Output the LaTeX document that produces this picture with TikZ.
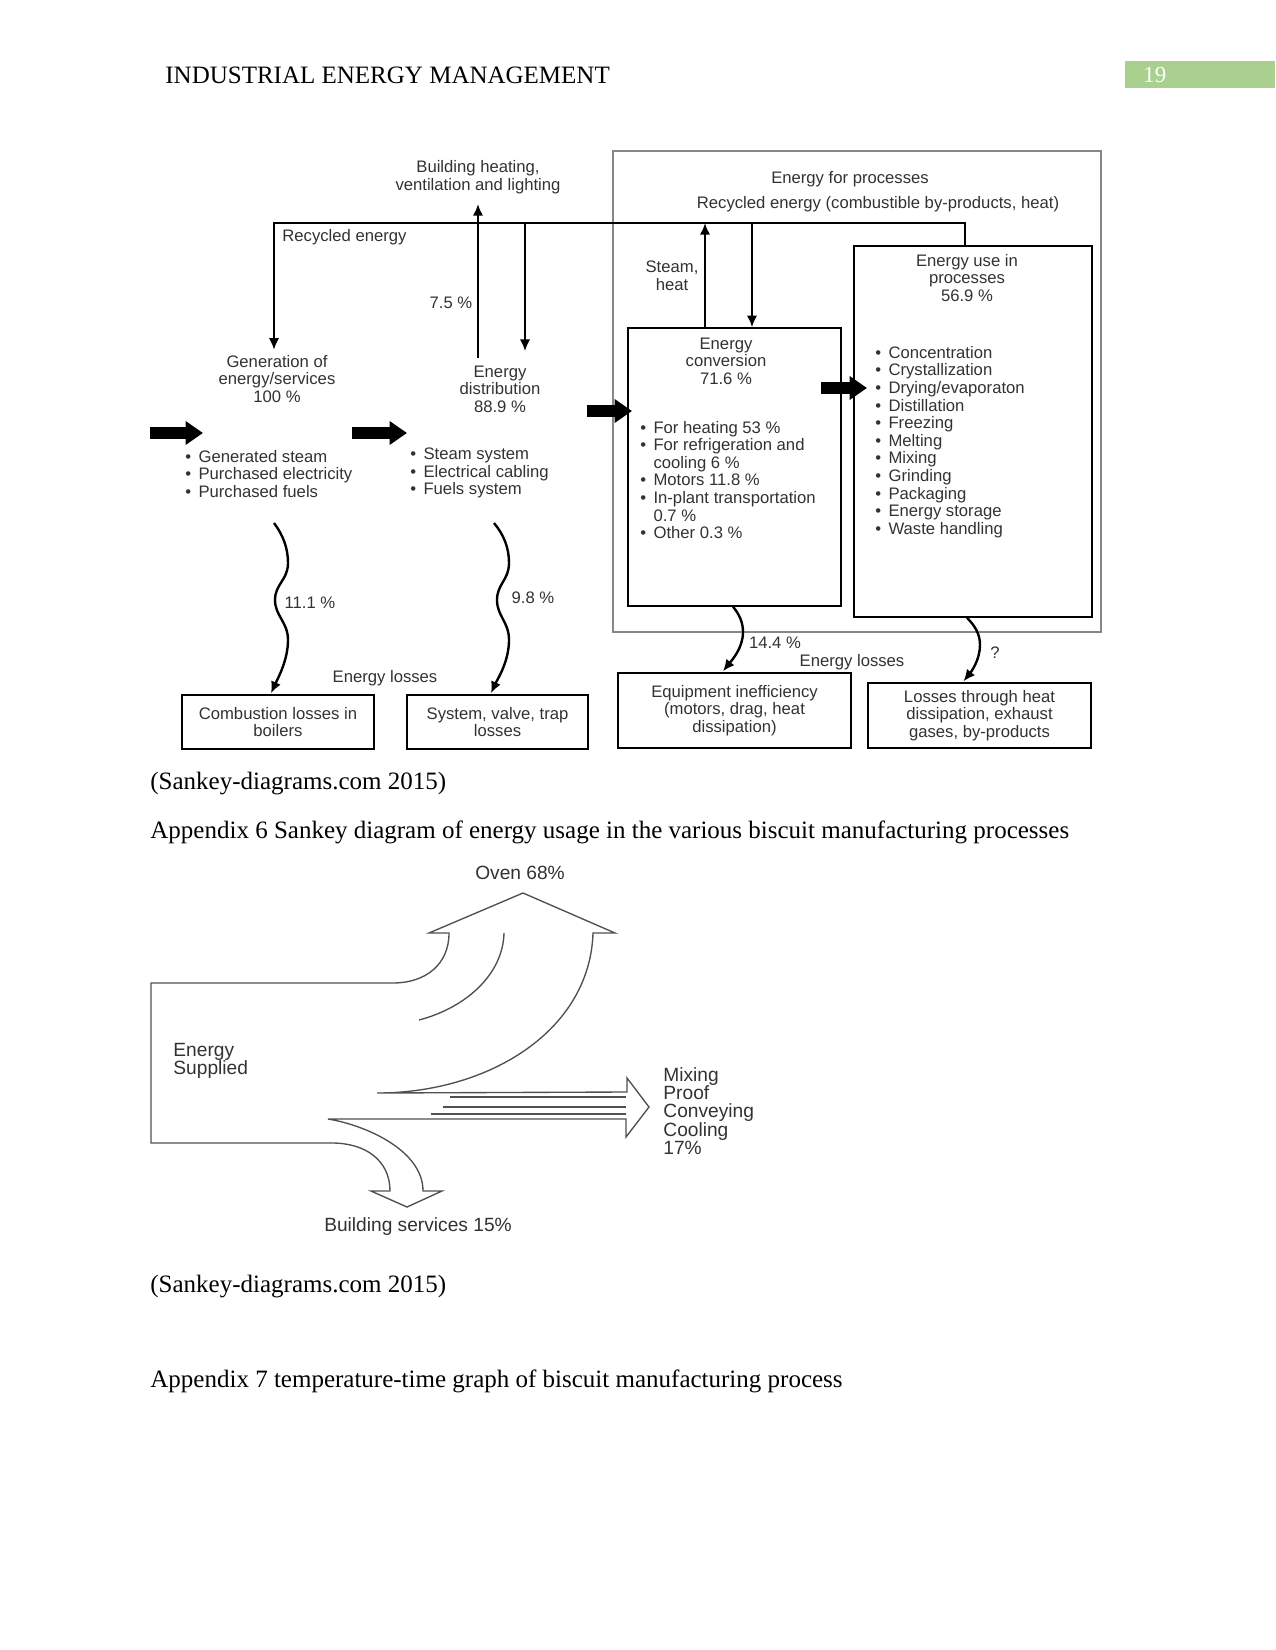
\documentclass[tikz,border=0pt]{standalone}
\usepackage{fontspec}
\setmainfont{Liberation Serif}
\newfontfamily\sansdiag{Liberation Sans}
\usetikzlibrary{calc,arrows.meta}
\definecolor{pagegreen}{RGB}{169,208,142}
\definecolor{inkgrey}{RGB}{50,50,50}
\definecolor{framegrey}{RGB}{135,135,135}
\definecolor{sankeygrey}{RGB}{80,80,80}
\newcommand{\itm}{\makebox[6.3pt][l]{\textbullet}}
\newcommand{\cnt}{\makebox[6.3pt][l]{}}

\begin{document}
\begin{tikzpicture}[x=0.48pt, y=-0.48pt, >={Latex[length=5.6pt,width=5pt]}]
\tikzstyle{lbl} = [font=\sansdiag\fontsize{8}{8.45}\selectfont, text=inkgrey, align=center, inner sep=0pt]
\tikzstyle{lst} = [lbl, align=left, anchor=west]
\tikzstyle{lossbox} = [rectangle, draw=black, line width=.7pt, lbl]
\tikzstyle{procbox} = [rectangle, draw=black, line width=.7pt]
\tikzstyle{flow} = [->, line width=1.15pt]
\tikzstyle{wave} = [->, line width=1.15pt]
\tikzstyle{fat} = [line width=5.8pt, -{Triangle[length=8.4pt,width=11pt]}]
\tikzstyle{body} = [font=\fontsize{12}{14}\selectfont, inner sep=0pt, anchor=west]
\tikzstyle{sk} = [draw=sankeygrey, line width=.65pt]
\tikzstyle{sklbl} = [font=\sansdiag\fontsize{9.2}{8.8}\selectfont, text=inkgrey, inner sep=0pt]

\useasboundingbox (0,0) rectangle (1275,1650);

% page header
\fill[pagegreen] (1125,61) rectangle (1275,88);
\node (hdr) [body] at (165,75) {INDUSTRIAL ENERGY MANAGEMENT};
\node (pgno) [body, text=white, font=\fontsize{11}{13}\selectfont] at (1143,75) {19};

% energy flow diagram
\node (frame) [procbox, draw=framegrey, minimum width=234.2pt, minimum height=230.9pt] at (857,391.5) {};
\node (conv) [procbox, minimum width=102.2pt, minimum height=133.4pt] at (734.5,467) {};
\node (use) [procbox, minimum width=114.2pt, minimum height=178.1pt] at (973,431.5) {};

\node (bhvl) [lbl] at (478,177) {Building heating,\\ventilation and lighting};
\node (recl) [lbl, anchor=west] at (282,237) {Recycled energy};
\node (pct75) [lbl] at (451,303) {7.5 \%};
\node (gen) [lbl] at (277,379) {Generation of\\energy/services\\100 \%};
\node (dist) [lbl] at (500,389) {Energy\\distribution\\88.9 \%};
\node (genlst) [lst] at (185,474) {\itm Generated steam\\\itm Purchased electricity\\\itm Purchased fuels};
\node (distlst) [lst] at (410,473) {\itm Steam system\\\itm Electrical cabling\\\itm Fuels system};
\node (efp) [lbl] at (850,179) {Energy for processes};
\node (recp) [lbl] at (878,204) {Recycled energy (combustible by-products, heat)};
\node (steam) [lbl] at (672,276) {Steam,\\heat};
\node (convt) [lbl] at (726,361) {Energy\\conversion\\71.6 \%};
\node (convlst) [lst] at (640,480) {\itm For heating 53 \%\\\itm For refrigeration and\\\cnt cooling 6 \%\\\itm Motors 11.8 \%\\\itm In-plant transportation\\\cnt 0.7 \%\\\itm Other 0.3 \%};
\node (uset) [lbl] at (967,278) {Energy use in\\processes\\56.9 \%};
\node (uselst) [lst] at (875,442) {\itm Concentration\\\itm Crystallization\\\itm Drying/evaporaton\\\itm Distillation\\\itm Freezing\\\itm Melting\\\itm Mixing\\\itm Grinding\\\itm Packaging\\\itm Energy storage\\\itm Waste handling};

\node (comb) [lossbox, minimum width=92.2pt, minimum height=25.9pt] at (278,722) {Combustion losses in\\boilers};
\node (sysv) [lossbox, minimum width=86.9pt, minimum height=25.9pt] at (497.5,722) {System, valve, trap\\losses};
\node (equip) [lossbox, minimum width=111.8pt, minimum height=36pt] at (734.5,710.5) {Equipment inefficiency\\(motors, drag, heat\\dissipation)};
\node (lossh) [lossbox, minimum width=107pt, minimum height=31.2pt] at (979.5,715.5) {Losses through heat\\dissipation, exhaust\\gases, by-products};

\node (pct111) [lbl] at (310,603) {11.1 \%};
\node (pct98) [lbl] at (533,598) {9.8 \%};
\node (loss1) [lbl] at (385,678) {Energy losses};
\node (pct144) [lbl] at (775,643) {14.4 \%};
\node (loss2) [lbl] at (852,662) {Energy losses};
\node (qmark) [lbl] at (995,653) {?};

% recycled energy loop
\coordinate (rl) at (274,223);
\coordinate (rr) at (965,223);
\coordinate (dl) at (525,223);
\coordinate (bhup) at (478,358);
\coordinate (cu) at (705,223);
\coordinate (cd) at (752,223);
\draw[flow] (use.north -| rr) -- (rr) -- (rl) -- ($(rl |- gen.north)+(0,-5)$);
\draw[flow] (dl) -- ($(dl |- dist.north)+(0,-14)$);
\draw[flow] (bhup) -- ($(bhup |- bhvl.south)+(0,10)$);
\draw[flow] (conv.north -| cu) -- (cu);
\draw[flow] (cd) -- (cd |- conv.north);

% supply arrows
\coordinate (f1s) at (150,433); \coordinate (f1e) at (203,433);
\coordinate (f2s) at (352,433); \coordinate (f2e) at (407,433);
\coordinate (f3s) at (587,411); \coordinate (f3e) at (632,411);
\coordinate (f4s) at (821,388); \coordinate (f4e) at (867,388);
\draw[fat] (f1s) -- (f1e);
\draw[fat] (f2s) -- (f2e);
\draw[fat] (f3s) -- (f3e);
\draw[fat] (f4s) -- (f4e);

% losses
\coordinate (w1s) at (274,523);
\coordinate (w2s) at (494,523);
\draw[wave] (w1s) .. controls (283,535) and (288,548) .. (288,563) .. controls (288,580) and (275,584) .. (275,600) .. controls (275,616) and (288,622) .. (288,640) .. controls (288,660) and (278,678) .. ($(comb.north)+(-7,-1)$);
\draw[wave] (w2s) .. controls (504,535) and (509,548) .. (509,563) .. controls (509,580) and (497,584) .. (497,600) .. controls (497,616) and (509,622) .. (509,640) .. controls (509,662) and (497,680) .. ($(sysv.north)+(-6.5,-1)$);
\draw[wave] ($(conv.south)+(-1.5,0)$) .. controls (739,614) and (743,622) .. (743,632) .. controls (743,648) and (732,660) .. ($(equip.north)+(-11.5,-1)$);
\draw[wave] ($(use.south)+(-6,0)$) .. controls (975,626) and (980,634) .. (980,645) .. controls (980,660) and (971,672) .. ($(lossh.north)+(-16,-1)$);

% captions
\node (src1) [body] at (150,784) {(Sankey-diagrams.com 2015)};
\node (app6) [body] at (150,832) {Appendix 6 Sankey diagram of energy usage in the various biscuit manufacturing processes};
\node (src2) [body] at (150,1287) {(Sankey-diagrams.com 2015)};
\node (app7) [body] at (150,1381) {Appendix 7 temperature-time graph of biscuit manufacturing process};

% biscuit sankey
\draw[sk] (449,933) .. controls (449,965) and (425,983) .. (393,983) -- (151,983) -- (151,1143) -- (332,1143)
  .. controls (365,1143) and (390,1160) .. (390,1191) -- (371,1191) -- (407,1207) -- (442,1191) -- (423,1191)
  .. controls (423,1150) and (365,1125) .. (328,1119) -- (626,1119) -- (626,1137) -- (649,1107) -- (627,1078) -- (627,1092) -- (377,1093)
  .. controls (490,1093) and (590,1030) .. (593,933) -- (615,933) -- (523,893) -- (429,933) -- cycle;
\draw[sk] (504,933) .. controls (503,975) and (465,1008) .. (419,1020);
\draw[sk] (450,1097) -- (626,1097);
\draw[sk] (443,1107) -- (626,1107);
\draw[sk] (431,1114) -- (626,1114);

\node (oven) [sklbl] at (520,873) {Oven 68\%};
\node (esup) [sklbl, align=left, anchor=west] at (173,1061) {Energy\\Supplied};
\node (mixl) [sklbl, align=left, anchor=west] at (663,1111) {Mixing\\Proof\\Conveying\\Cooling\\17\%};
\node (bsvc) [sklbl] at (418,1227) {Building services 15\%};

\end{tikzpicture}
\end{document}
